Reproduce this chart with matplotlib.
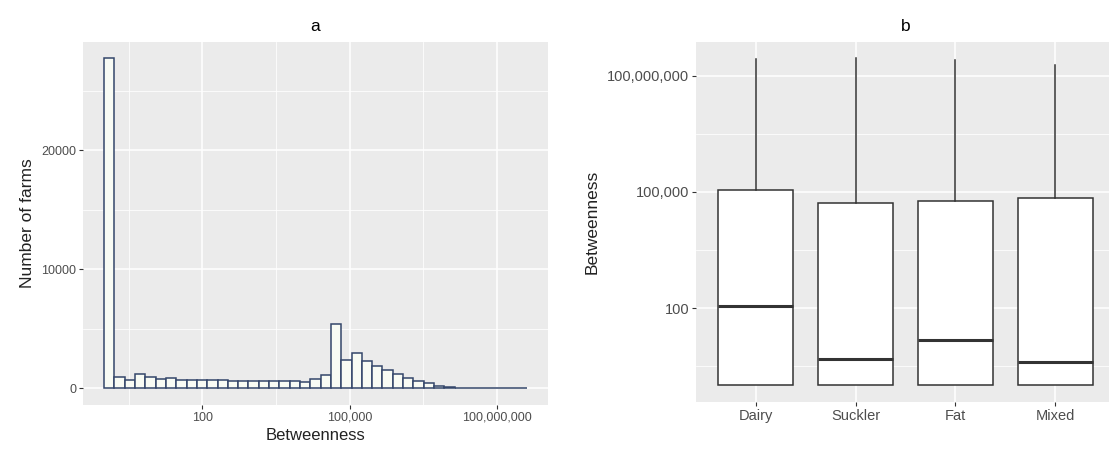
import numpy as np
import matplotlib
matplotlib.use("Agg")
import matplotlib.pyplot as plt
from matplotlib.ticker import FixedLocator, FixedFormatter, NullFormatter

plt.rcParams['font.family'] = ['Liberation Sans', 'DejaVu Sans']

# panel a: histogram of log10(betweenness), counts per bin
bin_start = 0.0     # log10 of left edge of first bin
bin_width = 0.21    # decades
farm_counts = [27700, 1000, 750, 1250, 950, 800, 900, 750, 720, 700,
               700, 680, 650, 630, 610, 600, 600, 600, 590, 580,
               800, 1100, 5450, 2400, 2950, 2350, 1900, 1550, 1250, 900,
               650, 420, 250, 140, 80, 45, 25, 12, 6, 3, 2]

# panel b: boxplot stats per farm type
farm_types = ["Dairy", "Suckler", "Fat", "Mixed"]
box_q1 = [1, 1, 1, 1]
box_median = [110, 4.9, 14.5, 3.9]
box_q3 = [115000, 51500, 60000, 71000]
box_whisk_hi = [2.8e8, 2.9e8, 2.6e8, 1.9e8]

log_breaks = [1e2, 1e5, 1e8]
log_labels = ["100", "100,000", "100,000,000"]
log_minor = [10 ** 0.5, 10 ** 3.5, 10 ** 6.5]

BG = "#EBEBEB"
TICK_COL = "#4D4D4D"


def gg_style(ax):
    ax.set_facecolor(BG)
    for s in ax.spines.values():
        s.set_visible(False)
    ax.grid(which='major', color='white', linewidth=1.1)
    ax.grid(which='minor', color='white', linewidth=0.55)
    ax.set_axisbelow(True)
    ax.tick_params(which='major', direction='out', length=3, width=0.8,
                   color='#333333', labelcolor=TICK_COL, pad=2)
    ax.tick_params(which='minor', length=0)


fig = plt.figure(figsize=(11.09, 4.5), dpi=100)

# ---- panel a
ax1 = fig.add_axes([0.0748, 0.1, 0.4193, 0.8067])
gg_style(ax1)
n = len(farm_counts)
edges = 10 ** (bin_start + bin_width * np.arange(n + 1))
ax1.set_xscale('log')
ax1.bar(edges[:-1], farm_counts, width=np.diff(edges), align='edge',
        color='#f8fbf4', edgecolor='#34466a', linewidth=1.1, zorder=2)
lo = bin_start
hi = bin_start + bin_width * n
pad = 0.05 * (hi - lo)
ax1.set_xlim(10 ** (lo - pad), 10 ** (hi + pad))
ax1.set_ylim(-0.05 * 27700, 27700 * 1.05)
ax1.xaxis.set_major_locator(FixedLocator(log_breaks))
ax1.xaxis.set_major_formatter(FixedFormatter(log_labels))
ax1.xaxis.set_minor_locator(FixedLocator(log_minor))
ax1.xaxis.set_minor_formatter(NullFormatter())
ax1.yaxis.set_major_locator(FixedLocator([0, 10000, 20000]))
ax1.yaxis.set_minor_locator(FixedLocator([5000, 15000, 25000]))
ax1.tick_params(labelsize=9)
ax1.set_xlabel("Betweenness", fontsize=12, labelpad=3, color='#222222')
ax1.set_ylabel("Number of farms", fontsize=12.5, labelpad=4, color='#222222')
ax1.set_title("a", fontsize=12.5, pad=8)

# ---- panel b
ax2 = fig.add_axes([0.6276, 0.1073, 0.3778, 0.8])
gg_style(ax2)
ax2.set_yscale('log')
stats = []
for i in range(len(farm_types)):
    stats.append(dict(med=box_median[i], q1=box_q1[i], q3=box_q3[i],
                      whislo=box_q1[i], whishi=box_whisk_hi[i], fliers=[]))
pos = np.arange(1, len(farm_types) + 1)
ax2.bxp(stats, positions=pos, widths=0.75, patch_artist=True,
        showfliers=False, showcaps=False,
        boxprops=dict(facecolor='white', edgecolor='#333333', linewidth=1.1),
        whiskerprops=dict(color='#333333', linewidth=1.1),
        medianprops=dict(color='#333333', linewidth=2.2), zorder=2)
ax2.set_xlim(0.4, len(farm_types) + 0.6)
ylo, yhi = 0.0, np.log10(max(box_whisk_hi))
ypad = 0.05 * (yhi - ylo)
ax2.set_ylim(10 ** (ylo - ypad), 10 ** (yhi + ypad))
ax2.set_xticks(pos)
ax2.set_xticklabels(farm_types)
ax2.xaxis.set_minor_locator(FixedLocator([]))
ax2.yaxis.set_major_locator(FixedLocator(log_breaks))
ax2.yaxis.set_major_formatter(FixedFormatter(log_labels))
ax2.yaxis.set_minor_locator(FixedLocator(log_minor))
ax2.yaxis.set_minor_formatter(NullFormatter())
ax2.tick_params(labelsize=10.5)
ax2.set_ylabel("Betweenness", fontsize=12.5, labelpad=5, color='#222222')
ax2.set_title("b", fontsize=12.5, pad=8)

fig.savefig("out.png", dpi=100, facecolor='white')
